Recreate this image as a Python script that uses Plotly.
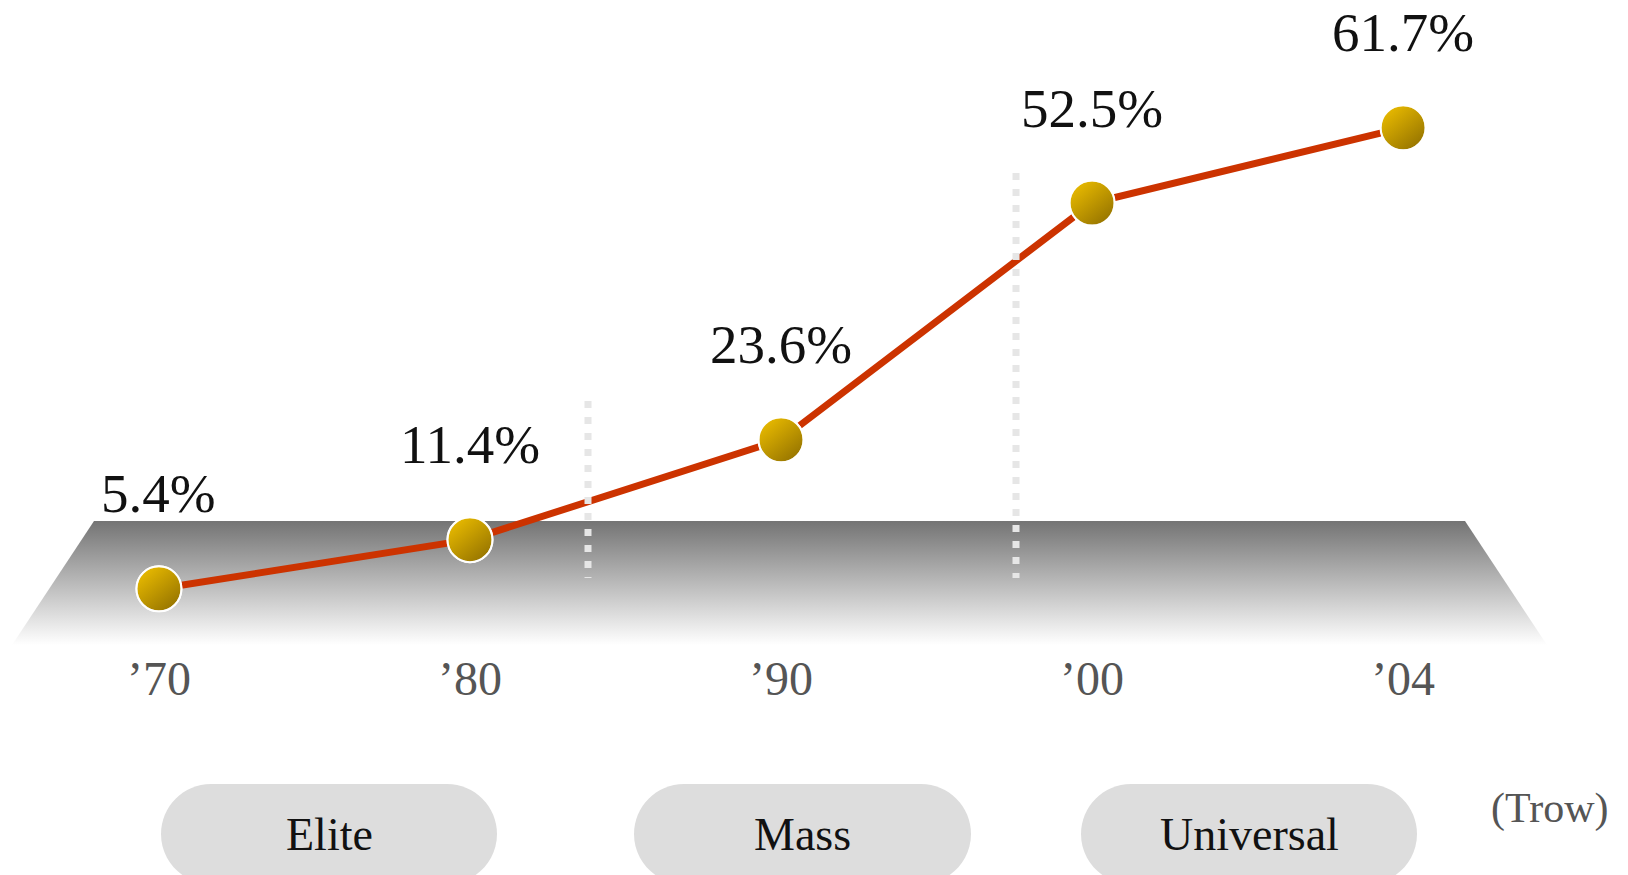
import plotly.graph_objects as go

# Data
years = ["\u201970", "\u201980", "\u201990", "\u201900", "\u201904"]
rates = [5.4, 11.4, 23.6, 52.5, 61.7]
stages = ["Elite", "Mass", "Universal"]
source_note = "(Trow)"

W, H = 1628, 875
FONT = "Liberation Serif, DejaVu Serif, serif"

x_idx = list(range(len(years)))

fig = go.Figure()

# ---- decoration layer (pixel-like coordinates on x/y) ----
# grey floor band with vertical fade
fig.add_trace(go.Scatter(
    x=[94, 1465, 1547, 12, 94], y=[521, 521, 645, 645, 521],
    mode="lines", line=dict(width=0), fill="toself",
    fillgradient=dict(type="vertical",
                      colorscale=[[0, "#ffffff"], [1, "#747474"]],
                      start=645, stop=521),
    hoverinfo="skip", showlegend=False, xaxis="x", yaxis="y",
))

# ---- data layer (x2/y2) ----
fig.add_trace(go.Scatter(
    x=x_idx, y=rates, mode="lines",
    line=dict(color="#cc3300", width=7),
    hoverinfo="skip", showlegend=False, xaxis="x2", yaxis="y2",
))
# markers: two stacked gradients give a diagonal gold shading
fig.add_trace(go.Scatter(
    x=x_idx, y=rates, mode="markers",
    marker=dict(size=45, color="#f4c400",
                gradient=dict(type="horizontal", color="#8a6a00"),
                line=dict(color="white", width=2)),
    hoverinfo="skip", showlegend=False, xaxis="x2", yaxis="y2",
))
fig.add_trace(go.Scatter(
    x=x_idx, y=rates, mode="markers",
    marker=dict(size=45, color="rgba(244,196,0,0.55)",
                gradient=dict(type="vertical", color="rgba(138,106,0,0.55)"),
                line=dict(color="white", width=2)),
    hoverinfo="skip", showlegend=False, xaxis="x2", yaxis="y2",
))

annotations = []
for i, v in zip(x_idx, rates):
    annotations.append(dict(
        x=i, y=v, xref="x2", yref="y2", text=f"{v}%", showarrow=False,
        yshift=95, font=dict(family=FONT, size=55, color="#111111"),
    ))


def pill_path(x0, x1, y0, y1, r):
    """Rounded-rectangle (stadium) outline built from cubic curves."""
    k = 0.5523 * r
    return (
        f"M{x0 + r},{y0} L{x1 - r},{y0} "
        f"C{x1 - r + k},{y0} {x1},{y0 + r - k} {x1},{y0 + r} "
        f"L{x1},{y1 - r} "
        f"C{x1},{y1 - r + k} {x1 - r + k},{y1} {x1 - r},{y1} "
        f"L{x0 + r},{y1} "
        f"C{x0 + r - k},{y1} {x0},{y1 - r + k} {x0},{y1 - r} "
        f"L{x0},{y0 + r} "
        f"C{x0},{y0 + r - k} {x0 + r - k},{y0} {x0 + r},{y0} Z"
    )


# stage pills
shapes = []
pill_x = [(161, 497), (634, 971), (1081, 1417)]
top, bot, r = 784, 884, 50
for (x0, x1), name in zip(pill_x, stages):
    shapes.append(dict(type="path", path=pill_path(x0, x1, top, bot, r),
                       xref="x", yref="y", fillcolor="#dddddd",
                       line=dict(width=0), layer="below"))
    annotations.append(dict(
        x=(x0 + x1) / 2, y=834, xref="x", yref="y", text=name, showarrow=False,
        font=dict(family=FONT, size=46, color="#111111"),
    ))

annotations.append(dict(
    x=1549, y=808, xref="x", yref="y", text=source_note, showarrow=False,
    font=dict(family=FONT, size=42, color="#555555"),
))

# dotted stage boundaries
for xv, y0 in [(588, 401), (1016, 173)]:
    shapes.append(dict(type="line", xref="x", yref="y", x0=xv, x1=xv,
                       y0=y0, y1=578, layer="above",
                       line=dict(color="#e6e6e6", width=7, dash="7px,9px")))

fig.update_layout(
    width=W, height=H,
    margin=dict(l=0, r=0, t=0, b=0),
    paper_bgcolor="white", plot_bgcolor="rgba(0,0,0,0)",
    shapes=shapes, annotations=annotations,
    xaxis=dict(range=[0, W], visible=False, fixedrange=True),
    yaxis=dict(range=[H, 0], visible=False, fixedrange=True),
    xaxis2=dict(
        overlaying="x", anchor="free", position=0.262,
        range=[-0.511, 4.723], tickmode="array", tickvals=x_idx, ticktext=years,
        showgrid=False, zeroline=False, showline=False, ticks="",
        tickfont=dict(family=FONT, size=48, color="#555555"),
    ),
    yaxis2=dict(overlaying="y", range=[-29.55, 77.29], visible=False),
)

fig.write_html("out.html")
